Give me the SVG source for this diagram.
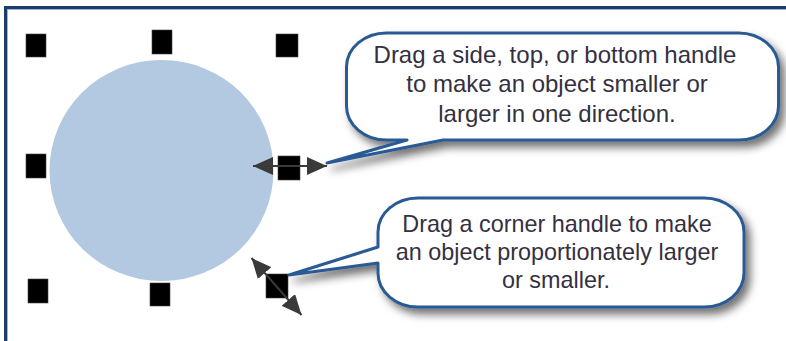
<svg xmlns="http://www.w3.org/2000/svg" width="786" height="341" viewBox="0 0 786 341">
  <style>
    .handle { fill: #000; stroke: #444; stroke-width: 0.6; }
    .bubble { fill: #fff; stroke: #2c5a94; stroke-width: 3; stroke-linejoin: round; }
    .txt { font-family: "Liberation Sans", Arial, sans-serif; font-size: 23.4px; fill: #35303f; text-anchor: middle; }
    .big { font-size: 24px; }
    .arr { stroke: #3a3a3a; stroke-width: 2; fill: none; }
  </style>
  <defs>
    <filter id="shadow" x="-10%" y="-20%" width="125%" height="150%">
      <feDropShadow dx="5" dy="6" stdDeviation="4" flood-color="#000" flood-opacity="0.55"/>
    </filter>
    <marker id="head" viewBox="0 0 20 18" refX="20" refY="9" markerWidth="20" markerHeight="18" markerUnits="userSpaceOnUse" orient="auto-start-reverse">
      <path d="M0,0 L20,9 L0,18 Z" fill="#3a3a3a"/>
    </marker>
  </defs>
  <rect width="786" height="341" fill="#fff"/>

  <g id="frame">
    <line x1="4" y1="7.5" x2="786" y2="7.5" stroke="#1c3c6c" stroke-width="3"/>
    <line x1="5.5" y1="6" x2="5.5" y2="341" stroke="#1c3c6c" stroke-width="3"/>
    <line x1="7" y1="9.5" x2="786" y2="9.5" stroke="#9fb3cf" stroke-width="1"/>
    <line x1="7.5" y1="9" x2="7.5" y2="341" stroke="#9fb3cf" stroke-width="1"/>
  </g>

  <g id="object">
    <ellipse cx="161.5" cy="170.5" rx="112" ry="110.5" fill="#b3c8e1"/>
  </g>

  <g id="handles">
    <g id="handle-tl"><rect class="handle" x="26" y="34" width="20" height="23"/></g>
    <g id="handle-tc"><rect class="handle" x="152" y="30" width="20" height="24"/></g>
    <g id="handle-tr"><rect class="handle" x="276" y="34" width="22" height="23"/></g>
    <g id="handle-ml"><rect class="handle" x="26" y="154" width="20" height="24"/></g>
    <g id="handle-mr"><rect class="handle" x="278" y="156" width="22" height="24"/></g>
    <g id="handle-bl"><rect class="handle" x="28" y="279" width="20" height="24"/></g>
    <g id="handle-bc"><rect class="handle" x="150" y="283" width="20" height="23"/></g>
    <g id="handle-br"><rect class="handle" x="266" y="274" width="22" height="24"/></g>
  </g>

  <g id="connectors">
    <line class="arr" x1="253" y1="166" x2="327" y2="166" marker-start="url(#head)" marker-end="url(#head)"/>
    <line class="arr" x1="251.5" y1="258" x2="301.5" y2="315" marker-start="url(#head)" marker-end="url(#head)"/>
  </g>

  <g id="callout-side" filter="url(#shadow)">
    <path class="bubble" d="M386.5,33 H738.5 A40 34 0 0 1 778.5,67 V106 A40 34 0 0 1 738.5,140 H443 L327,163 L407,140 H386.5 A40 34 0 0 1 346.5,106 V67 A40 34 0 0 1 386.5,33 Z"/>
  </g>
  <g id="callout-side-text">
    <text class="txt big" x="555" y="63">Drag a side, top, or bottom handle</text>
    <text class="txt big" x="557" y="92">to make an object smaller or</text>
    <text class="txt big" x="557" y="122">larger in one direction.</text>
  </g>

  <g id="callout-corner" filter="url(#shadow)">
    <path class="bubble" d="M418,198 H704 A40 34 0 0 1 744,232 V273 A40 34 0 0 1 704,307 H418 A40 34 0 0 1 378,273 V263 L289,275 L378,247 V232 A40 34 0 0 1 418,198 Z"/>
  </g>
  <g id="callout-corner-text">
    <text class="txt" x="557" y="232">Drag a corner handle to make</text>
    <text class="txt" x="557" y="260">an object proportionately larger</text>
    <text class="txt" x="556" y="288">or smaller.</text>
  </g>
</svg>
